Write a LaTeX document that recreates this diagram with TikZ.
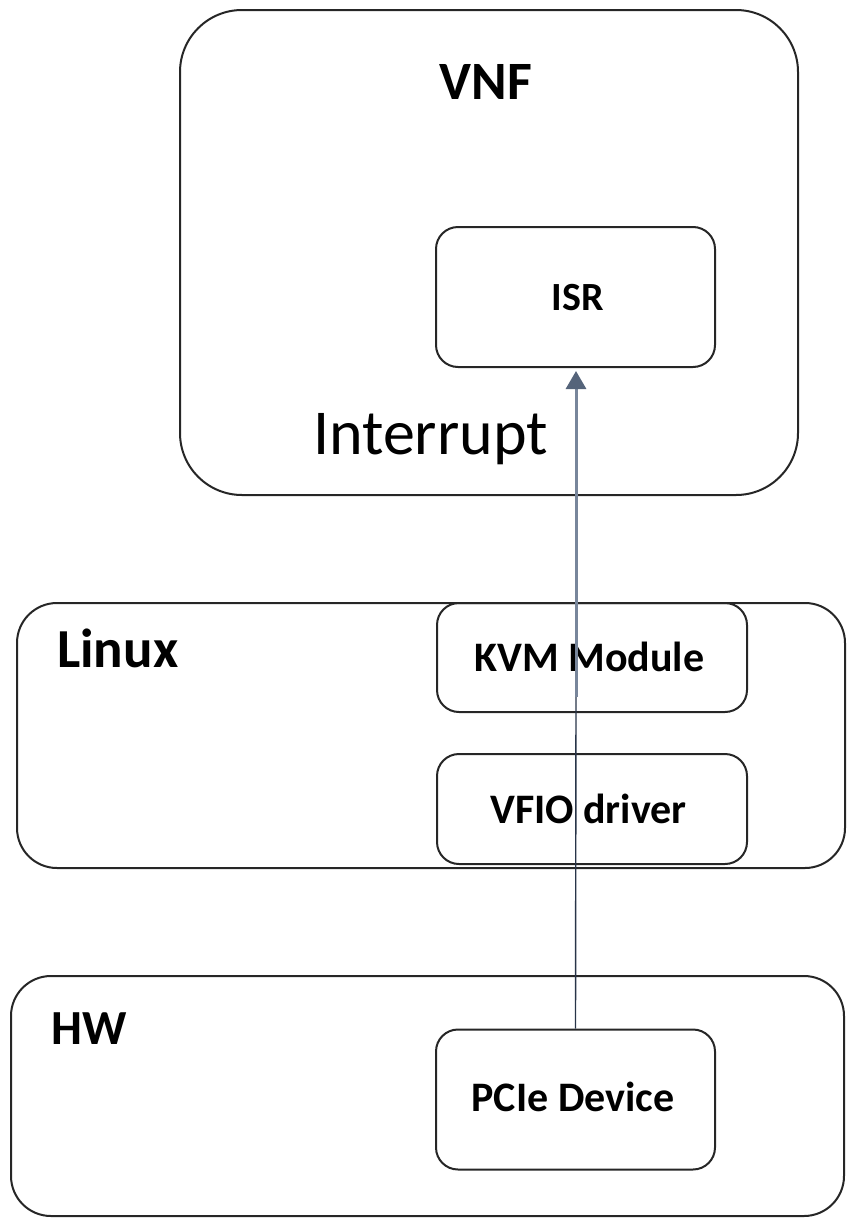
\documentclass[tikz,border=0pt]{standalone}
\usepackage{fontspec}
\setmainfont{Carlito}
\usetikzlibrary{arrows.meta}
\definecolor{linegray}{RGB}{120,134,155}
\definecolor{headgray}{RGB}{85,100,122}
\definecolor{darkline}{RGB}{40,52,72}
\tikzset{
  outerbox/.style={draw=black!85, line width=2pt, rounded corners=#1},
  innerbox/.style={draw=black!85, line width=2pt, rounded corners=22pt},
  biglabel/.style={font=\bfseries\fontsize{54}{60}\selectfont, inner sep=0pt},
  boxlabel/.style={font=\bfseries\fontsize{42}{50}\selectfont, inner sep=0pt},
}
\begin{document}
\begin{tikzpicture}[x=1pt,y=-1pt]
\useasboundingbox (0,0) rectangle (846,1218);
% outer containers
\draw[outerbox=62pt] (180,10) rectangle (798,495);
\draw[outerbox=40pt] (17,603) rectangle (845,868);
\draw[outerbox=40pt] (11,976) rectangle (844,1216);
% inner boxes
\node[innerbox, minimum width=279pt, minimum height=140pt] (isr) at (575.5,297) {};
\node[innerbox, minimum width=310pt, minimum height=109pt] (kvm) at (592,657.5) {};
\node[innerbox, minimum width=310pt, minimum height=110pt] (vfio) at (592,809) {};
\node[innerbox, minimum width=279pt, minimum height=140pt] (pcie) at (575.5,1099.5) {};
% labels
\node[biglabel, anchor=base] (vnft) at (486,99) {VNF};
\node[biglabel, anchor=base west, font=\bfseries\fontsize{55}{60}\selectfont] (linuxt) at (57,667) {Linux};
\node[biglabel, anchor=base west, font=\bfseries\fontsize{49}{60}\selectfont] (hwt) at (51,1044) {HW};
\node[inner sep=0pt, anchor=base west, font=\fontsize{64}{70}\selectfont] (intt) at (313,454) {Interrupt};
\node[boxlabel, anchor=base, font=\bfseries\fontsize{40}{50}\selectfont] (isrt) at (578,310) {ISR};
\node[boxlabel, anchor=base] (kvmt) at (589.5,671) {KVM Module};
\node[boxlabel, anchor=base] (vfiot) at (588.5,823) {VFIO driver};
\node[boxlabel, anchor=base] (pciet) at (573,1111) {PCIe Device};
% connector
\coordinate (mid) at (576,697);
\draw[darkline, line width=1.4pt] (pcie.north) -- (mid);
\draw[linegray, line width=3pt, -{Triangle[width=20pt,length=18pt,color=headgray]}, shorten >=3pt] (mid) -- (isr.south -| mid);
\end{tikzpicture}
\end{document}
